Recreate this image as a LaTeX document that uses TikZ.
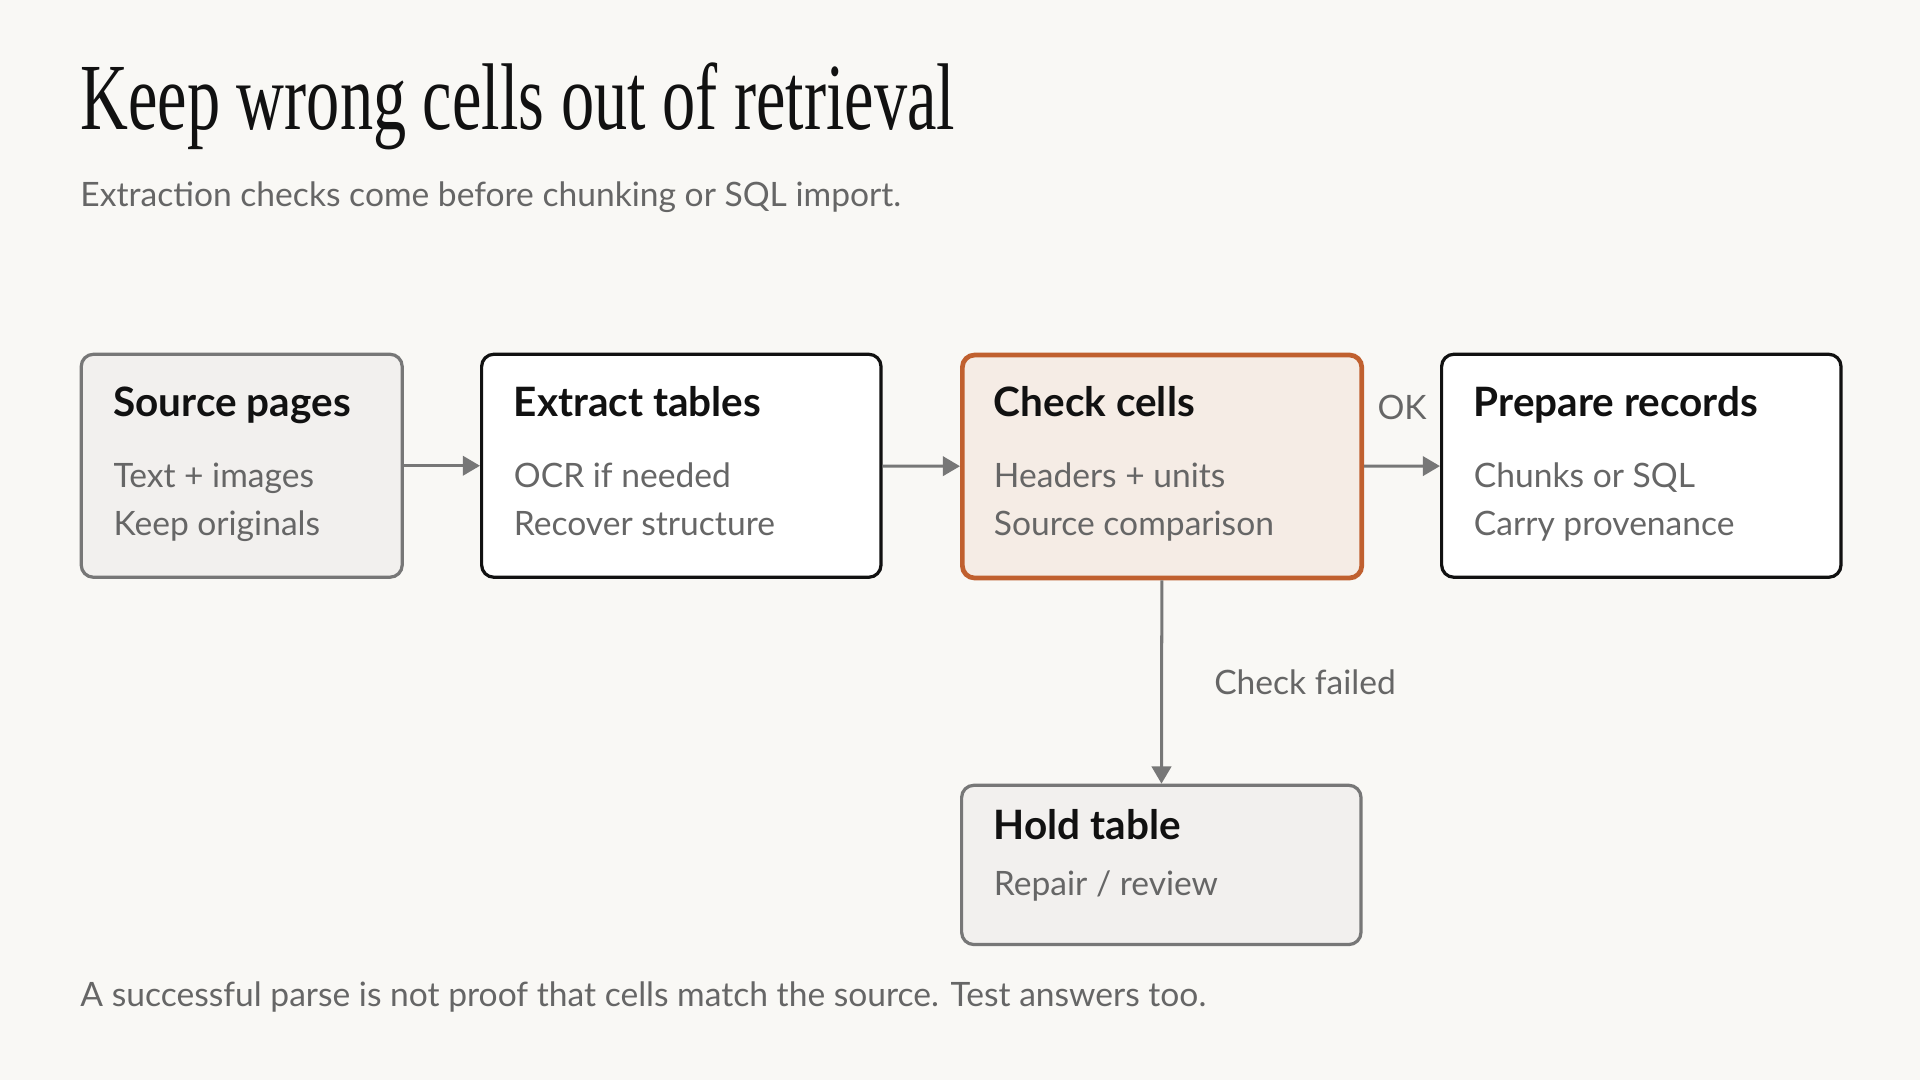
\documentclass[tikz,border=0pt]{standalone}
\usepackage{fontspec}
\setmainfont{Lato}
\newfontfamily\titlefont{Liberation Serif}
\usetikzlibrary{arrows.meta,positioning}
\definecolor{bg}{HTML}{F9F8F5}
\definecolor{ink}{HTML}{111111}
\definecolor{muted}{HTML}{666666}
\definecolor{grayfill}{HTML}{F2F0EE}
\definecolor{grayline}{HTML}{777777}
\definecolor{hotline}{HTML}{C0602F}
\definecolor{hotfill}{HTML}{F5ECE5}
\tikzset{
  box/.style = {draw = ink, line width = 0.75pt, rounded corners = 0.1cm, fill = white,
                minimum width = 3.26cm, minimum height = 1.82cm, inner sep = 0pt},
  graybox/.style = {box, draw = grayline, fill = grayfill},
  hotbox/.style = {box, draw = hotline, fill = hotfill, line width = 1.1pt},
  head/.style = {anchor = base west, inner sep = 0pt, text = ink, font = \fontsize{9.4}{11}\selectfont\bfseries},
  line/.style = {anchor = base west, inner sep = 0pt, text = muted, font = \fontsize{7.8}{9}\selectfont},
  flow/.style = {draw = grayline, line width = 0.7pt, -{Triangle[length = 4pt, width = 4.5pt]}}
}
\begin{document}
\begin{tikzpicture}[x = 0.01cm, y = -0.01cm]
    \useasboundingbox[fill = bg] (0,0) rectangle (1568,882);
    \node[anchor = base west, inner sep = 0pt, text = ink, font = \fontsize{22}{24}\titlefont] (title) at (65,106)
        {\scalebox{0.7}[1]{Keep wrong cells out of retrieval}};
    \node[line] (sub) at (65,169) {Extraction checks come before chunking or SQL import.};
    % main row
    \node[graybox, anchor = north west, minimum width = 2.62cm] (source) at (65,288) {};
    \node[box, anchor = north west] (extract) at (392,288) {};
    \node[hotbox, anchor = north west] (check) at (784,288) {};
    \node[box, anchor = north west] (prepare) at (1176,288) {};
    \node[graybox, anchor = north west, minimum height = 1.30cm] (hold) at (784,640) {};
    \node[head] (sourceh) at (92,340) {Source pages};
    \node[line] (source1) at (92,398) {Text + images};
    \node[line] (source2) at (92,437) {Keep originals};
    \node[head] (extracth) at (419,340) {Extract tables};
    \node[line] (extract1) at (419,398) {OCR if needed};
    \node[line] (extract2) at (419,437) {Recover structure};
    \node[head] (checkh) at (811,340) {Check cells};
    \node[line] (check1) at (811,398) {Headers + units};
    \node[line] (check2) at (811,437) {Source comparison};
    \node[head] (prepareh) at (1203,340) {Prepare records};
    \node[line] (prepare1) at (1203,398) {Chunks or SQL};
    \node[line] (prepare2) at (1203,437) {Carry provenance};
    \node[head] (holdh) at (811,686) {Hold table};
    \node[line] (hold1) at (811,731) {Repair / review};
    % connectors
    \draw[flow] (source) -- (extract);
    \draw[flow] (extract) -- (check);
    \draw[flow] (check) -- node[above = 0.25cm, text = muted, font = \fontsize{7.8}{9}\selectfont] {OK} (prepare);
    \draw[flow] (check) -- node[right = 0.3cm, text = muted, font = \fontsize{7.8}{9}\selectfont] {Check failed} (hold);
    \node[line] (note) at (65,822) {A successful parse is not proof that cells match the source. Test answers too.};
\end{tikzpicture}
\end{document}
